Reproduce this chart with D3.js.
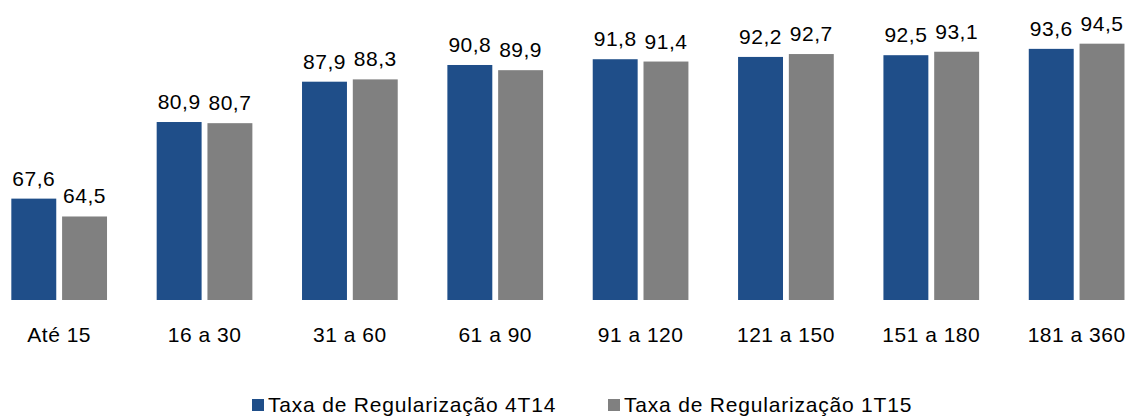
<!DOCTYPE html>
<html>
<head>
<meta charset="utf-8">
<script src="https://cdn.jsdelivr.net/npm/d3@7"></script>
<style>
  body { margin: 0; background: #ffffff; }
  text { font-family: Arial, "Liberation Sans", sans-serif; fill: #000000; }
</style>
</head>
<body>
<script>
/********************************************************/
// Data
const categories = ["Até 15", "16 a 30", "31 a 60", "61 a 90", "91 a 120", "121 a 150", "151 a 180", "181 a 360"];
const seriesNames = ["Taxa de Regularização 4T14", "Taxa de Regularização 1T15"];
const values4T14 = [67.6, 80.9, 87.9, 90.8, 91.8, 92.2, 92.5, 93.6];
const values1T15 = [64.5, 80.7, 88.3, 89.9, 91.4, 92.7, 93.1, 94.5];
const colors = ["#1F4E89", "#808080"];

/********************************************************/
// SVG area
const svgWidth = 1130;
const svgHeight = 416;

const svg = d3
  .select("body")
  .append("svg")
  .attr("width", svgWidth)
  .attr("height", svgHeight);

// build rows for the grouped bars
const rows = categories.map((c, i) => ({
  category: c,
  values: [
    { series: seriesNames[0], value: values4T14[i], color: colors[0] },
    { series: seriesNames[1], value: values1T15[i], color: colors[1] },
  ],
}));

/************** Scales ************/
const xGroup = d3
  .scaleBand()
  .domain(categories)
  .range([-13.5, 1149.3]);

const groupWidth = 95.7;

const xBar = d3
  .scaleBand()
  .domain(seriesNames)
  .range([0, groupWidth])
  .paddingInner(0.115);

const yScale = d3
  .scaleLinear()
  .domain([50, 100])
  .range([300, 12]);

/************** Bars ************/
const groups = svg
  .selectAll(".group")
  .data(rows)
  .enter()
  .append("g")
  .classed("group", true)
  .attr("transform", (d) => `translate(${xGroup(d.category) + (xGroup.bandwidth() - groupWidth) / 2},0)`);

groups
  .selectAll("rect")
  .data((d) => d.values)
  .enter()
  .append("rect")
  .attr("x", (d) => xBar(d.series))
  .attr("y", (d) => yScale(d.value))
  .attr("width", xBar.bandwidth())
  .attr("height", (d) => yScale(50) - yScale(d.value))
  .attr("fill", (d) => d.color);

// value labels above each bar
groups
  .selectAll(".valueLabel")
  .data((d) => d.values)
  .enter()
  .append("text")
  .classed("valueLabel", true)
  .text((d) => d3.format(".1f")(d.value).replace(".", ","))
  .attr("x", (d) => xBar(d.series) + xBar.bandwidth() / 2)
  .attr("y", (d) => yScale(d.value) - 13)
  .attr("text-anchor", "middle")
  .attr("font-size", "21px")
  .attr("letter-spacing", "0.5px");

/************** Category axis (no line, no ticks) ************/
const bottomAxis = d3.axisBottom(xGroup).tickSize(0).tickPadding(0);

const axisG = svg
  .append("g")
  .attr("transform", `translate(0, ${yScale(50)})`)
  .call(bottomAxis);

axisG.select(".domain").remove();
axisG
  .selectAll("text")
  .attr("dy", null)
  .attr("y", 42)
  .attr("font-size", "21px")
  .attr("letter-spacing", "0.5px")
  .attr("fill", "#000000")
  .style("font-family", "Arial, 'Liberation Sans', sans-serif");

/************** Legend ************/
const legendX = [252, 608];

const legend = svg
  .selectAll(".legendItem")
  .data(seriesNames)
  .enter()
  .append("g")
  .classed("legendItem", true)
  .attr("transform", (d, i) => `translate(${legendX[i]}, 399)`);

legend
  .append("rect")
  .attr("width", 12)
  .attr("height", 12)
  .attr("fill", (d, i) => colors[i]);

legend
  .append("text")
  .text((d) => d)
  .attr("x", 16)
  .attr("y", 13)
  .attr("font-size", "21px")
  .attr("letter-spacing", "0.8px");
</script>
</body>
</html>
